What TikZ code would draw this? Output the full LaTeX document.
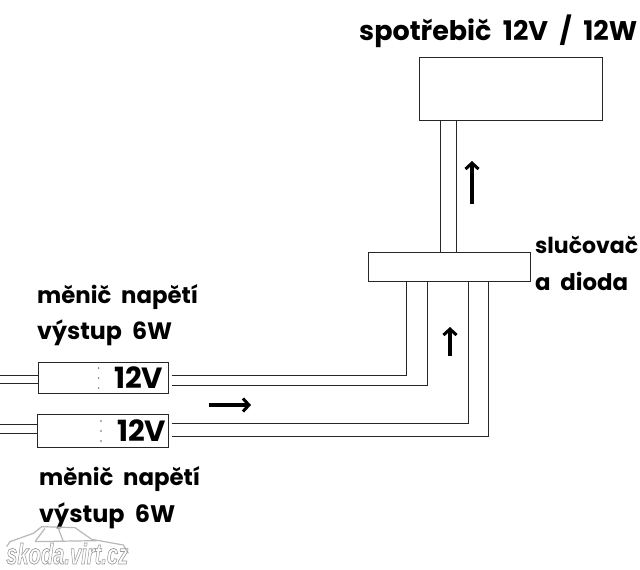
\documentclass[tikz,border=0pt]{standalone}
\usepackage{graphicx}
\usepackage{fontspec}
\setmainfont{Poppins}
\newfontfamily\wmfont{Liberation Sans}
\usetikzlibrary{arrows.meta}
\tikzset{
  boxnode/.style={draw=black!85,line width=1pt,fill=white,inner sep=0pt,outer sep=0pt},
  wire/.style={draw=black!85,line width=1pt},
  lab/.style={anchor=base west,inner sep=0pt,text=black,font=\bfseries\fontsize{24}{24}\selectfont},
  flow/.style={draw=black,line width=3.6pt,-{Straight Barb[length=6pt,width=13pt,line width=3pt]}},
  wmline/.style={draw=black!28,line width=1.2pt,line join=round},
}
\newcommand{\lbl}[2]{\resizebox{#1pt}{!}{#2}}
\begin{document}
\begin{tikzpicture}[x=1pt,y=-1pt]
\useasboundingbox (0,0) rectangle (640,570);
\fill[white] (0,0) rectangle (640,570);
% boxes
\node[boxnode,minimum width=183pt,minimum height=63pt] (load) at (511,89) {};
\node[boxnode,minimum width=162pt,minimum height=29pt] (merge) at (449.5,267) {};
\node[boxnode,minimum width=130pt,minimum height=31pt] (conv1) at (103.5,378) {};
\node[boxnode,minimum width=131pt,minimum height=33pt] (conv2) at (103,431) {};
% free ends
\coordinate (in1a) at (0,375.5);
\coordinate (in1b) at (0,383.5);
\coordinate (in2a) at (0,424.5);
\coordinate (in2b) at (0,433.5);
% wires
\draw[wire] ([xshift=-9pt]merge.north) -- ([xshift=-9pt]merge.north |- load.south);
\draw[wire] ([xshift=7pt]merge.north) -- ([xshift=7pt]merge.north |- load.south);
\draw[wire] ([xshift=3pt,yshift=2.5pt]conv1.east) -| ([xshift=-43pt]merge.south);
\draw[wire] ([xshift=3pt,yshift=-7.5pt]conv1.east) -| ([xshift=-22pt]merge.south);
\draw[wire] ([xshift=3pt,yshift=7.5pt]conv2.east) -| ([xshift=19pt]merge.south);
\draw[wire] ([xshift=3pt,yshift=-5.5pt]conv2.east) -| ([xshift=39pt]merge.south);
\draw[wire] (in1a) -- (in1a -| conv1.west);
\draw[wire] (in1b) -- (in1b -| conv1.west);
\draw[wire] (in2a) -- (in2a -| conv2.west);
\draw[wire] (in2b) -- (in2b -| conv2.west);
% dots
\foreach \y in {368,378,388} \fill[black!60] (98.7,\y) circle (0.8);
\foreach \y in {421,431,441} \fill[black!60] (101,\y) circle (0.8);
% flow arrows
\coordinate (fa) at (209,405); \coordinate (fb) at (251,405);
\coordinate (ga) at (450,356); \coordinate (gb) at (450,327);
\coordinate (ha) at (472,204); \coordinate (hb) at (472,161);
\draw[flow] (fa) -- (fb);
\draw[flow] (ga) -- (gb);
\draw[flow] (ha) -- (hb);
% labels
\node[lab] (t1) at (359,40) {\lbl{278}{spotřebič\ \ 12V\ \ /\ \ 12W}};
\node[lab] (t2) at (535,253) {\lbl{103}{slučovač}};
\node[lab] (t3) at (535,290) {\lbl{93}{a\ \ dioda}};
\node[lab] (t4) at (37,303) {\lbl{161}{měnič\ \ napětí}};
\node[lab] (t5) at (37,339) {\lbl{135}{výstup\ \ 6W}};
\node[lab] (t6) at (39,485) {\lbl{161}{měnič\ \ napětí}};
\node[lab] (t7) at (39,522) {\lbl{136}{výstup\ \ 6W}};
\node[lab] (t8) at (114,388) {\lbl{49}{12V}};
\node[lab] (t9) at (117,441) {\lbl{49}{12V}};
% watermark
\begin{scope}[shift={(0,350)},x=0.3333pt,y=-0.3333pt]
\draw[wmline] (20,590) -- (30,575) -- (100,550) -- (125,530) -- (225,533) -- (275,568) -- (370,585) -- (385,610);
\draw[wmline] (105,575) -- (135,535) (175,535) -- (190,575) (105,575) -- (290,572);
\end{scope}
\node[anchor=base west,inner sep=0pt,text=black!40] (wm) at (6,564) {\resizebox{122pt}{21pt}{\wmfont\bfseries\itshape\special{pdf:code 1 Tr 0.25 w}skoda.virt.cz\special{pdf:code 0 Tr}}};
\end{tikzpicture}
\end{document}
